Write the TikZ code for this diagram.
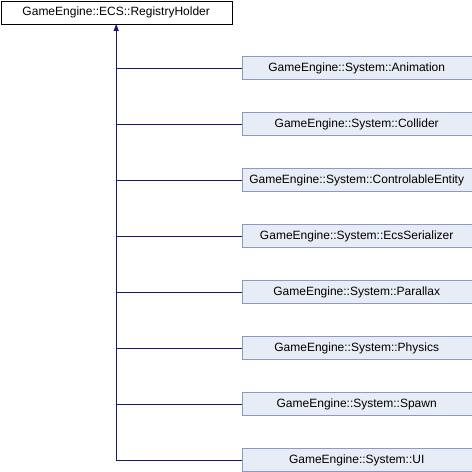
\documentclass[tikz,border=0pt]{standalone}
\usepackage{fontspec}
\setmainfont{Liberation Sans}
\usetikzlibrary{arrows.meta}
\definecolor{edgeblue}{HTML}{191970}
\definecolor{boxfill}{HTML}{E8ECF6}
\definecolor{boxline}{HTML}{8A9AC0}

\begin{document}
\begin{tikzpicture}[x=1pt,y=-1pt,
    base/.style={draw=black,fill=white,minimum width=231pt,minimum height=23pt,
      inner sep=0pt,font=\fontsize{12}{14}\selectfont},
    derived/.style={base,draw=boxline,fill=boxfill,minimum width=230pt},
    link/.style={edgeblue,line width=0.8pt}]
  \useasboundingbox (0,0) rectangle (472,472);

  \node[base,anchor=north west] (holder) at (0.5,0.5) {GameEngine::ECS::RegistryHolder};

  \foreach \k/\name in {0/Animation, 1/Collider, 2/ControlableEntity, 3/EcsSerializer,
                        4/Parallax, 5/Physics, 6/Spawn, 7/UI} {
    \node[derived,anchor=west] (sys\k) at (241.5,68+56*\k) {GameEngine::System::\name};
    \draw[link] (holder.south |- sys\k.west) -- (sys\k.west);
  }

  \draw[link,-{Triangle[width=5pt,length=7pt]}] (holder.south |- sys7.west) -- (holder.south);
\end{tikzpicture}
\end{document}
